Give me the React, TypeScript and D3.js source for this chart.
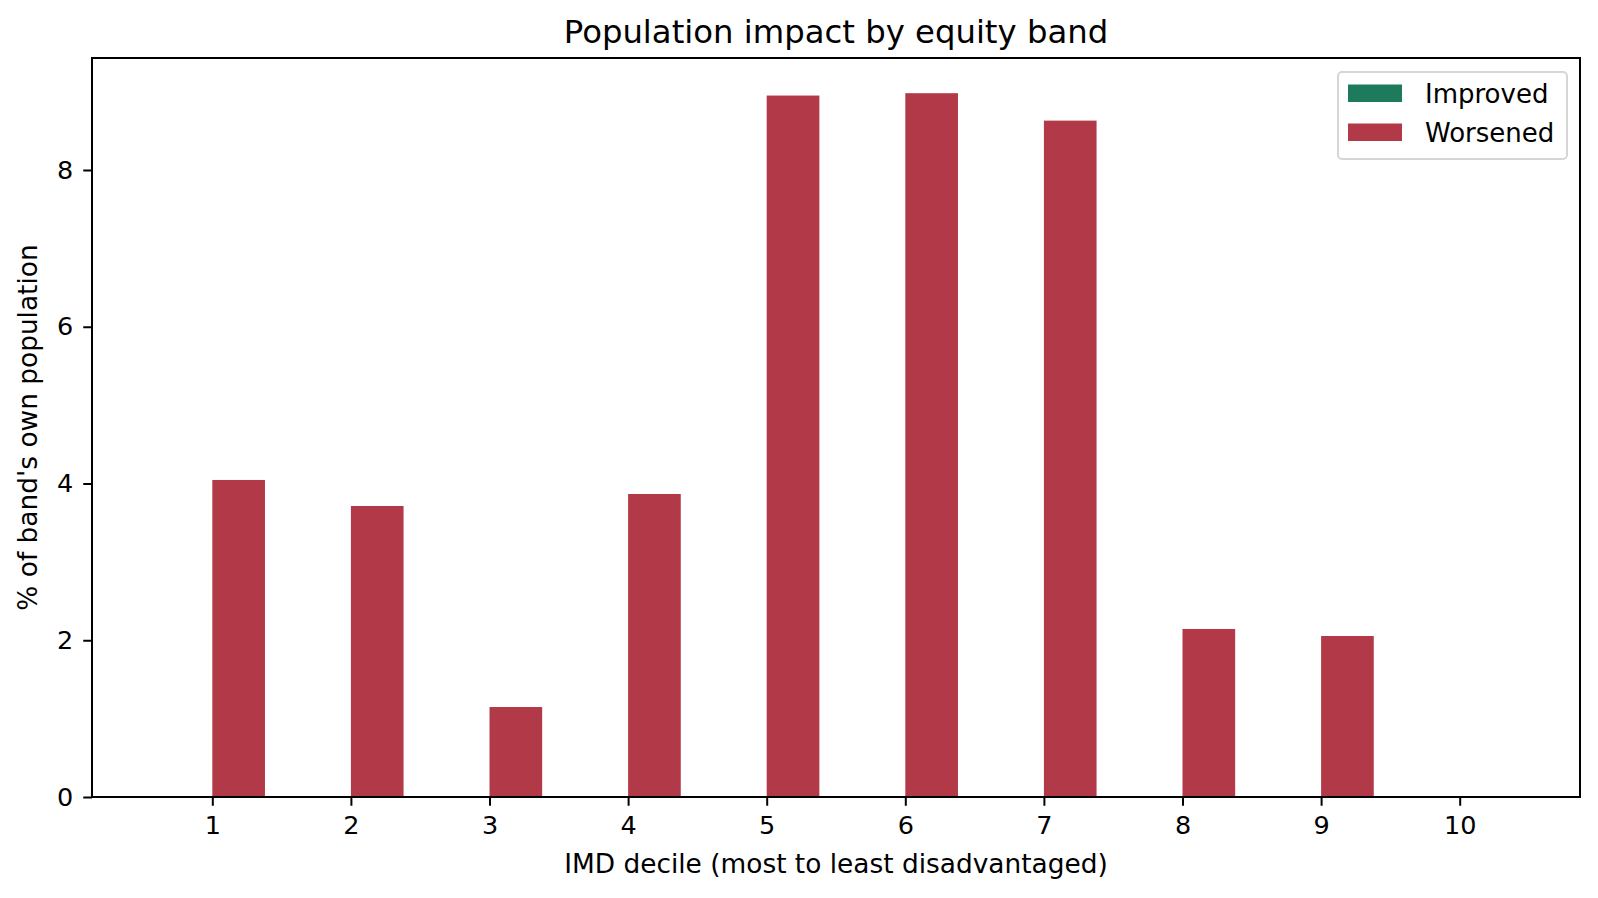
import * as React from 'react';
import * as d3 from 'd3';

const deciles: number[] = [1, 2, 3, 4, 5, 6, 7, 8, 9, 10];
const improved: number[] = [0, 0, 0, 0, 0, 0, 0, 0, 0, 0];
const worsened: number[] = [4.045, 3.713, 1.148, 3.866, 8.95, 8.98, 8.63, 2.144, 2.054, 0];
const yTicks: number[] = [0, 2, 4, 6, 8];
const seriesNames: string[] = ['Improved', 'Worsened'];
const seriesColors: string[] = ['#1d7a5c', '#b23a48'];

const W = 1598;
const H = 898;
const margin = { left: 92, right: 18, top: 58, bottom: 101 };
const barWidth = 0.38;
const font = 'DejaVu Sans, sans-serif';

export default function App() {
  const ref = React.useRef<SVGSVGElement>(null);

  React.useEffect(() => {
    const svg = d3.select(ref.current);
    svg.selectAll('*').remove();

    const innerW = W - margin.left - margin.right;
    const innerH = H - margin.top - margin.bottom;

    // matplotlib style 5% margin around the bars
    const lo = d3.min(deciles)! - barWidth;
    const hi = d3.max(deciles)! + barWidth;
    const pad = (hi - lo) * 0.05;
    const x = d3.scaleLinear().domain([lo - pad, hi + pad]).range([0, innerW]);

    const yMax = Math.max(d3.max(worsened)!, d3.max(improved)!) * 1.05;
    const y = d3.scaleLinear().domain([0, yMax]).range([innerH, 0]);

    const g = svg.append('g').attr('transform', `translate(${margin.left},${margin.top})`);

    // bars
    g.selectAll('rect.imp')
      .data(deciles)
      .join('rect')
      .attr('class', 'imp')
      .attr('x', (d) => x(d - barWidth))
      .attr('width', (d) => x(d) - x(d - barWidth))
      .attr('y', (_, i) => y(improved[i]))
      .attr('height', (_, i) => y(0) - y(improved[i]))
      .attr('fill', seriesColors[0]);

    g.selectAll('rect.wor')
      .data(deciles)
      .join('rect')
      .attr('class', 'wor')
      .attr('x', (d) => x(d))
      .attr('width', (d) => x(d + barWidth) - x(d))
      .attr('y', (_, i) => y(worsened[i]))
      .attr('height', (_, i) => y(0) - y(worsened[i]))
      .attr('fill', seriesColors[1]);

    // axes
    const xAxis = d3.axisBottom(x).tickValues(deciles).tickSize(8.75).tickSizeOuter(0).tickPadding(10)
      .tickFormat((d) => String(d));
    g.append('g')
      .attr('transform', `translate(0,${innerH})`)
      .call(xAxis)
      .call((a) => a.select('.domain').remove())
      .call((a) => a.selectAll('line').attr('stroke', '#000').attr('stroke-width', 2))
      .call((a) => a.selectAll('text').attr('font-family', font).attr('font-size', 25.5).attr('fill', '#000'));

    const yAxis = d3.axisLeft(y).tickValues(yTicks).tickSize(8.75).tickSizeOuter(0).tickPadding(10)
      .tickFormat((d) => String(d));
    g.append('g')
      .call(yAxis)
      .call((a) => a.select('.domain').remove())
      .call((a) => a.selectAll('line').attr('stroke', '#000').attr('stroke-width', 2))
      .call((a) => a.selectAll('text').attr('font-family', font).attr('font-size', 25.5).attr('fill', '#000'));

    // frame
    g.append('rect')
      .attr('width', innerW)
      .attr('height', innerH)
      .attr('fill', 'none')
      .attr('stroke', '#000')
      .attr('stroke-width', 2);

    // title and labels
    svg.append('text')
      .attr('x', margin.left + innerW / 2)
      .attr('y', 43)
      .attr('text-anchor', 'middle')
      .attr('font-family', font)
      .attr('font-size', 32.3)
      .text('Population impact by equity band');

    svg.append('text')
      .attr('x', margin.left + innerW / 2)
      .attr('y', 873)
      .attr('text-anchor', 'middle')
      .attr('font-family', font)
      .attr('font-size', 26.4)
      .text('IMD decile (most to least disadvantaged)');

    svg.append('text')
      .attr('transform', `translate(37,${margin.top + innerH / 2}) rotate(-90)`)
      .attr('text-anchor', 'middle')
      .attr('font-family', font)
      .attr('font-size', 26.4)
      .text("% of band's own population");

    // legend
    const lg = svg.append('g').attr('transform', 'translate(1338,72)');
    lg.append('rect')
      .attr('width', 229)
      .attr('height', 87)
      .attr('rx', 4)
      .attr('fill', '#fff')
      .attr('fill-opacity', 0.8)
      .attr('stroke', '#d6d6d6')
      .attr('stroke-width', 2);
    seriesNames.forEach((name, i) => {
      lg.append('rect')
        .attr('x', 10)
        .attr('y', 12.5 + i * 39)
        .attr('width', 54)
        .attr('height', 17.5)
        .attr('fill', seriesColors[i]);
      lg.append('text')
        .attr('x', 87)
        .attr('y', 30.5 + i * 39)
        .attr('font-family', font)
        .attr('font-size', 26)
        .text(name);
    });
  }, []);

  return (
    <svg
      ref={ref}
      width={W}
      height={H}
      style={{ position: 'absolute', left: 0, top: 0, background: '#fff' }}
    />
  );
}
